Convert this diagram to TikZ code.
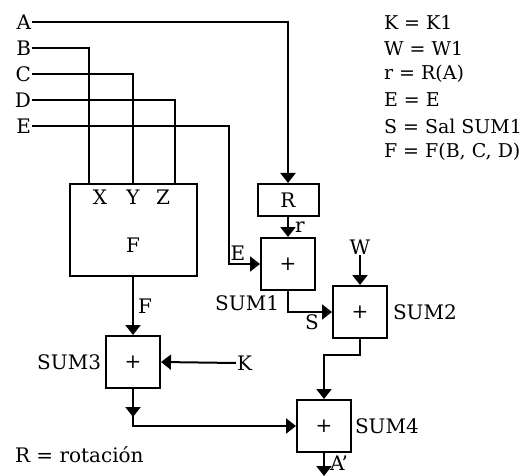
\documentclass[tikz,border=0pt]{standalone}
\usepackage{fontspec}
\setmainfont{DejaVu Serif}
\usetikzlibrary{arrows.meta, positioning, calc}

\begin{document}
\begin{tikzpicture}[
    x=1pt, y=-1pt,
    every node/.style={font=\fontsize{20}{22}\selectfont, inner sep=0pt},
    line width=2pt,
    blk/.style={rectangle, draw, line width=2pt},
    sumbox/.style={blk, minimum width=54pt, minimum height=52pt},
    arr/.style={-{Triangle[width=15pt, length=10pt]}},
    leyenda/.style={anchor=west, font=\fontsize{19}{21}\selectfont}
]
    \useasboundingbox (0,0) rectangle (525,476);
    % entradas
    \node[anchor=east] (inA) at (32,22)  {A};
    \node[anchor=east] (inB) at (32,48)  {B};
    \node[anchor=east] (inC) at (32,74)  {C};
    \node[anchor=east] (inD) at (32,100) {D};
    \node[anchor=east] (inE) at (32,126) {E};
    % bloques
    \node[blk, minimum width=127pt, minimum height=92pt] (fbox) at (133,230) {};
    \node (fname) at (133,245) {F};
    \node (xin) at (100,197) {X};
    \node (yin) at (133,197) {Y};
    \node (zin) at (163,197) {Z};
    \node[blk, minimum width=61pt, minimum height=32pt] (rbox) at (288,200) {R};
    \node[sumbox] (sum1) at (288,264) {+};
    \node[sumbox] (sum2) at (360,312) {+};
    \node[sumbox] (sum3) at (133,362) {+};
    \node[sumbox] (sum4) at (324,426) {+};
    \node[anchor=east] at (280,303) {SUM1};
    \node[anchor=west] at (392,312) {SUM2};
    \node[anchor=east] at (102,362) {SUM3};
    \node[anchor=west] at (354,426) {SUM4};
    \node (wIn) at (360,247) {W};
    \node[anchor=west] (kIn) at (236,363) {K};
    % conexiones
    \draw[arr] (inA.east) -| (rbox.north);
    \draw (inB.east) -| ($(fbox.north west)+(20,0)$);
    \draw (inC.east) -| (fbox.north);
    \draw (inD.east) -| ($(fbox.north east)+(-23,0)$);
    \draw[arr] (inE.east) -| ([xshift=-31pt]sum1.west) -- (sum1.west);
    \node at (238,253) {E};
    \draw[arr] (rbox.south) -- (sum1.north) node[midway, right=6pt] {r};
    \draw[arr] (sum1.south) |- (sum2.west);
    \node at (312,322) {S};
    \draw[arr] (wIn.south) -- (sum2.north);
    \draw[arr] (fbox.south) -- (sum3.north) node[midway, right=4pt] {F};
    \draw[arr] (kIn.west) -- (sum3.east);
    \draw[arr] (sum3.south) -- ([yshift=-28pt]sum3.south);
    \draw[arr] (sum3.south) |- (sum4.west);
    \draw[arr] (sum2.south) -- ([yshift=-16pt]sum2.south) -| (sum4.north);
    \draw[arr] (sum4.south) -- ([yshift=-23pt]sum4.south)
        node[pos=0.45, right=5pt] {A'};
    % leyenda
    \node[leyenda] at (383,22)  {K = K1};
    \node[leyenda] at (383,48)  {W = W1};
    \node[leyenda] at (383,74)  {r = R(A)};
    \node[leyenda] at (383,100) {E = E};
    \node[leyenda] at (383,126) {S = Sal SUM1};
    \node[leyenda] at (383,152) {F = F(B, C, D)};
    \node[anchor=west] at (14,455)  {R = rotación};
\end{tikzpicture}
\end{document}
